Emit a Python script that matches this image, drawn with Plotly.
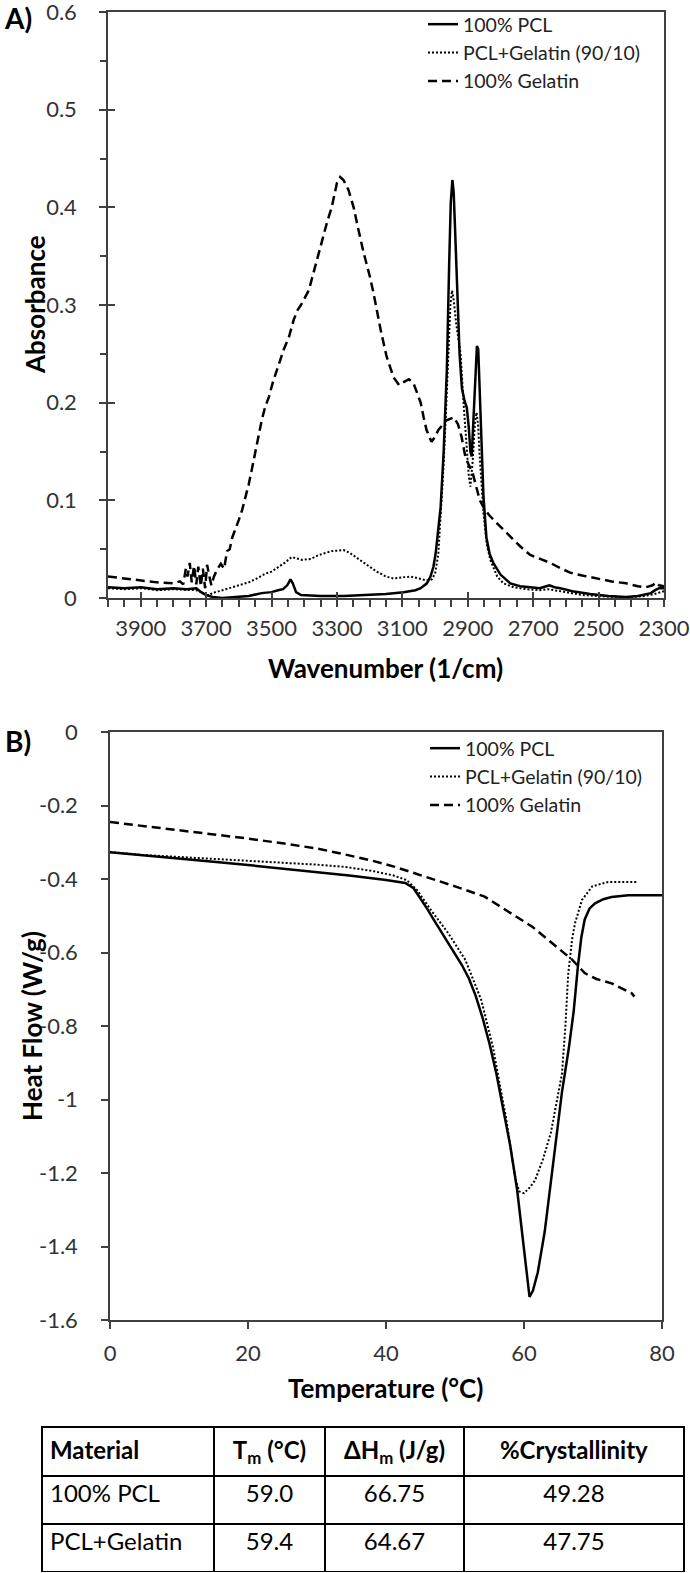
import plotly.graph_objects as go

W, H = 690, 1573

# ---------------- FTIR data (panel A) ----------------
pcl_wn = [4000, 3950, 3900, 3850, 3800, 3760, 3730, 3715, 3700, 3680, 3650, 3600, 3570, 3530, 3500,
          3480, 3465, 3452, 3442, 3435, 3425, 3410, 3350, 3279, 3200, 3150, 3096, 3060, 3044, 3025,
          3014, 3005, 2998, 2990, 2983, 2974, 2964, 2957, 2952, 2947, 2943, 2938, 2932, 2925, 2918,
          2910, 2903, 2897, 2892, 2888, 2883, 2877, 2872, 2868, 2864, 2858, 2852, 2843, 2833, 2822,
          2800, 2770, 2740, 2709, 2680, 2660, 2650, 2635, 2617, 2580, 2526, 2470, 2416, 2380, 2364,
          2340, 2327, 2315, 2300]
pcl_abs = [0.011, 0.010, 0.011, 0.009, 0.010, 0.009, 0.010, 0.006, 0.003, 0.001, 0.000, 0.001, 0.002, 0.005, 0.006,
           0.008, 0.009, 0.013, 0.019, 0.015, 0.006, 0.003, 0.002, 0.002, 0.003, 0.004, 0.006, 0.008, 0.010, 0.015,
           0.022, 0.032, 0.046, 0.068, 0.093, 0.148, 0.233, 0.340, 0.405, 0.428, 0.415, 0.370, 0.310, 0.250, 0.215,
           0.202, 0.195, 0.175, 0.150, 0.145, 0.180, 0.232, 0.258, 0.255, 0.215, 0.148, 0.104, 0.062, 0.045, 0.036,
           0.024, 0.015, 0.012, 0.011, 0.010, 0.012, 0.013, 0.011, 0.010, 0.007, 0.004, 0.002, 0.001, 0.002, 0.003,
           0.005, 0.008, 0.010, 0.010]

blend_wn = [4000, 3950, 3900, 3850, 3800, 3760, 3730, 3710, 3700, 3690, 3682, 3660, 3640, 3621, 3600,
            3570, 3545, 3518, 3500, 3478, 3460, 3438, 3420, 3407, 3380, 3356, 3316, 3290, 3279, 3260,
            3228, 3200, 3178, 3150, 3127, 3100, 3075, 3050, 3026, 3010, 3000, 2990, 2983, 2975, 2968,
            2960, 2953, 2948, 2943, 2935, 2922, 2913, 2903, 2897, 2892, 2885, 2878, 2873, 2868, 2864,
            2852, 2842, 2831, 2810, 2791, 2760, 2720, 2680, 2655, 2640, 2600, 2550, 2500, 2450, 2400,
            2360, 2330, 2310, 2300]
blend_abs = [0.010, 0.009, 0.010, 0.008, 0.009, 0.008, 0.008, 0.005, 0.003, 0.003, 0.005, 0.007, 0.009, 0.011, 0.013,
             0.016, 0.020, 0.025, 0.027, 0.032, 0.036, 0.042, 0.040, 0.039, 0.040, 0.044, 0.048, 0.049, 0.049, 0.046,
             0.039, 0.032, 0.027, 0.022, 0.020, 0.021, 0.022, 0.020, 0.018, 0.019, 0.025, 0.045, 0.080, 0.130, 0.180,
             0.250, 0.300, 0.315, 0.305, 0.280, 0.250, 0.200, 0.150, 0.125, 0.114, 0.140, 0.180, 0.190, 0.175, 0.148,
             0.087, 0.055, 0.039, 0.022, 0.015, 0.011, 0.009, 0.008, 0.009, 0.008, 0.006, 0.003, 0.002, 0.001, 0.001,
             0.002, 0.004, 0.006, 0.007]

gel_wn = [4000, 3950, 3900, 3850, 3800, 3780, 3770, 3762, 3757, 3750, 3744, 3737, 3730, 3724, 3716,
          3710, 3703, 3697, 3690, 3684, 3676, 3665, 3655, 3645, 3636, 3628, 3620, 3610, 3600, 3590,
          3580, 3570, 3560, 3550, 3540, 3530, 3520, 3508, 3495, 3478, 3462, 3447, 3432, 3420, 3410,
          3386, 3356, 3330, 3316, 3300, 3290, 3280, 3265, 3249, 3235, 3218, 3200, 3188, 3166, 3148,
          3127, 3110, 3096, 3080, 3066, 3055, 3044, 3035, 3026, 3011, 3000, 2990, 2983, 2965, 2943,
          2930, 2919, 2907, 2895, 2885, 2875, 2863, 2852, 2835, 2821, 2800, 2770, 2740, 2709, 2680,
          2648, 2620, 2587, 2550, 2507, 2460, 2416, 2380, 2355, 2335, 2324, 2315, 2300]
gel_abs = [0.022, 0.020, 0.018, 0.016, 0.015, 0.017, 0.014, 0.030, 0.022, 0.036, 0.016, 0.033, 0.014, 0.032, 0.012,
           0.030, 0.010, 0.034, 0.022, 0.013, 0.022, 0.030, 0.035, 0.030, 0.048, 0.050, 0.062, 0.070, 0.080, 0.090,
           0.102, 0.116, 0.132, 0.150, 0.165, 0.182, 0.195, 0.206, 0.222, 0.240, 0.255, 0.267, 0.285, 0.295, 0.300,
           0.315, 0.353, 0.385, 0.400, 0.425, 0.431, 0.428, 0.418, 0.400, 0.378, 0.353, 0.330, 0.312, 0.274, 0.247,
           0.226, 0.218, 0.221, 0.224, 0.220, 0.210, 0.200, 0.185, 0.172, 0.160, 0.165, 0.172, 0.175, 0.182, 0.185,
           0.178, 0.165, 0.144, 0.135, 0.128, 0.115, 0.100, 0.093, 0.085, 0.080, 0.073, 0.063, 0.053, 0.044, 0.040,
           0.036, 0.031, 0.026, 0.023, 0.020, 0.017, 0.015, 0.012, 0.011, 0.013, 0.016, 0.013, 0.012]

# ---------------- DSC data (panel B) ----------------
pcl_T = [0, 5, 10, 15, 20, 25, 30, 35, 40, 42.8, 44, 45, 46, 47, 48, 49, 50, 51, 52, 53, 54, 55, 56,
         57, 58, 59, 59.7, 60.3, 60.8, 61.3, 62.0, 63.0, 63.6, 64.5, 65.5, 66.5, 67.2, 67.8, 68.3, 68.8,
         69.5, 70.3, 71.5, 72.7, 75.1, 80]
pcl_hf = [-0.327, -0.335, -0.344, -0.353, -0.362, -0.371, -0.380, -0.391, -0.403, -0.411, -0.425, -0.452,
          -0.482, -0.513, -0.543, -0.572, -0.601, -0.634, -0.670, -0.718, -0.778, -0.848, -0.930, -1.025,
          -1.125, -1.245, -1.355, -1.46, -1.537, -1.52, -1.47, -1.36, -1.27, -1.12, -0.98, -0.86, -0.76,
          -0.64, -0.56, -0.51, -0.48, -0.466, -0.455, -0.449, -0.444, -0.444]

blend_T = [0, 5, 10, 15, 20, 25, 30, 34, 38, 41, 43.0, 44.5, 46.5, 49.0, 51.5, 53.8, 55.5, 56.4, 57.4, 58.2,
           58.8, 59.3, 60, 60.8, 61.6, 62.8, 63.9, 64.8, 65.5, 66.0, 66.4, 67.0, 67.4, 68.4, 69.9, 72.2, 76.5]
blend_hf = [-0.327, -0.335, -0.340, -0.345, -0.350, -0.356, -0.361, -0.367, -0.378, -0.390, -0.403, -0.43,
            -0.484, -0.547, -0.62, -0.729, -0.857, -0.95, -1.05, -1.15, -1.22, -1.25, -1.255, -1.24, -1.22,
            -1.16, -1.09, -1.0, -0.93, -0.80, -0.66, -0.56, -0.52, -0.457, -0.42, -0.408, -0.408]

gel_T = [0, 5, 10, 15, 20, 25, 30, 34, 38, 41.3, 44, 46.5, 50, 54.3, 58.2, 61.2, 64.1, 67, 68.8, 70.5,
         72.7, 75.6, 76]
gel_hf = [-0.245, -0.256, -0.267, -0.279, -0.29, -0.303, -0.317, -0.333, -0.350, -0.367, -0.383, -0.398,
          -0.42, -0.448, -0.493, -0.53, -0.575, -0.62, -0.656, -0.672, -0.684, -0.711, -0.72]

# ---------------- labels ----------------
series_names = ["100% PCL", "PCL+Gelatin (90/10)", "100% Gelatin"]
a_ytickvals = [0, 0.1, 0.2, 0.3, 0.4, 0.5, 0.6]
a_yticktext = ["0", "0.1", "0.2", "0.3", "0.4", "0.5", "0.6"]
a_xtickvals = [3900, 3700, 3500, 3300, 3100, 2900, 2700, 2500, 2300]
a_xticktext = ["3900", "3700", "3500", "3300", "3100", "2900", "2700", "2500", "2300"]
b_ytickvals = [0, -0.2, -0.4, -0.6, -0.8, -1.0, -1.2, -1.4, -1.6]
b_yticktext = ["0", "-0.2", "-0.4", "-0.6", "-0.8", "-1", "-1.2", "-1.4", "-1.6"]
b_xtickvals = [0, 20, 40, 60, 80]
b_xticktext = ["0", "20", "40", "60", "80"]

table_header = ["<b>Material</b>", "<b>T<sub>m</sub> (°C)</b>", "<b>ΔH<sub>m</sub> (J/g)</b>", "<b>%Crystallinity</b>"]
materials = ["100% PCL", "PCL+Gelatin"]
tm_vals = ["59.0", "59.4"]
dhm_vals = ["66.75", "64.67"]
cryst_vals = ["49.28", "47.75"]

FONT = "Lato"
AX = "#404040"
TICKF = dict(family=FONT, size=22, color="#333333")


def px2x(p):
    return p / W


def py2y(p):
    return 1 - p / H


fig = go.Figure()

styles = [dict(color="black", width=2.5, dash="solid"),
          dict(color="black", width=2, dash="2px,2px"),
          dict(color="black", width=2.5, dash="9px,5px")]

for name, xs, ys, st in zip(series_names, [pcl_wn, blend_wn, gel_wn], [pcl_abs, blend_abs, gel_abs], styles):
    fig.add_trace(go.Scatter(x=xs, y=ys, mode="lines", name=name, line=st,
                             xaxis="x", yaxis="y", legend="legend"))

for name, xs, ys, st in zip(series_names, [pcl_T, blend_T, gel_T], [pcl_hf, blend_hf, gel_hf], styles):
    fig.add_trace(go.Scatter(x=xs, y=ys, mode="lines", name=name, line=st,
                             xaxis="x2", yaxis="y2", legend="legend2"))

# empty trace that carries the overlay axes (inner half of the crossing ticks)
fig.add_trace(go.Scatter(x=[], y=[], xaxis="x3", yaxis="y3", showlegend=False))

fig.add_trace(go.Table(
    domain=dict(x=[px2x(42), px2x(684)], y=[0, py2y(1427)]),
    columnwidth=[172, 111, 139, 220],
    header=dict(values=table_header, height=48, align=["left", "center", "center", "center"],
                line=dict(color="black", width=2), fill=dict(color="white"),
                font=dict(family=FONT, size=24, color="black")),
    cells=dict(values=[materials, tm_vals, dhm_vals, cryst_vals], height=48,
               align=["left", "center", "center", "center"],
               line=dict(color="black", width=2), fill=dict(color="white"),
               font=dict(family=FONT, size=24, color="black")),
))

a_dom_x = [px2x(108), px2x(664)]
a_dom_y = [py2y(598), py2y(12)]
b_dom_x = [px2x(110), px2x(662)]
b_dom_y = [py2y(1320), py2y(732)]

common = dict(showgrid=False, zeroline=False, automargin=False, ticklabeloverflow="allow")

fig.update_layout(
    width=W, height=H, margin=dict(l=0, r=0, t=0, b=0, autoexpand=False),
    paper_bgcolor="white", plot_bgcolor="white",
    font=dict(family=FONT, color="black"),
    xaxis=dict(domain=a_dom_x, anchor="y", range=[4000, 2300], tickmode="array",
               tickvals=a_xtickvals, ticktext=a_xticktext, ticks="outside", ticklen=7,
               tickcolor=AX, tickwidth=1.5, showline=True, linecolor=AX, linewidth=1.5,
               mirror=True, tickfont=TICKF, ticklabelstandoff=3,
               minor=dict(tick0=4000, dtick=50, ticks="outside", ticklen=7, tickcolor=AX, tickwidth=1.5),
               **common),
    yaxis=dict(domain=a_dom_y, anchor="x", range=[0, 0.6], tickmode="array",
               tickvals=a_ytickvals, ticktext=a_yticktext, ticks="outside", ticklen=7,
               tickcolor=AX, tickwidth=1.5, showline=True, linecolor=AX, linewidth=1.5,
               mirror=True, tickfont=TICKF, ticklabelstandoff=18,
               minor=dict(tick0=0, dtick=0.05, ticks="outside", ticklen=6, tickcolor=AX, tickwidth=1.5),
               **common),
    xaxis3=dict(overlaying="x", anchor="y3", range=[4000, 2300], tickmode="array",
                tickvals=a_xtickvals, ticks="inside", ticklen=6, tickcolor=AX, tickwidth=1.5,
                showticklabels=False, showline=False, **common),
    yaxis3=dict(overlaying="y", anchor="x3", range=[0, 0.6], tickmode="array",
                tickvals=a_ytickvals, ticks="inside", ticklen=7, tickcolor=AX, tickwidth=1.5,
                showticklabels=False, showline=False, **common),
    xaxis2=dict(domain=b_dom_x, anchor="y2", range=[0, 80], tickmode="array",
                tickvals=b_xtickvals, ticktext=b_xticktext, ticks="outside", ticklen=7,
                tickcolor=AX, tickwidth=1.5, showline=True, linecolor=AX, linewidth=1.5,
                mirror=True, tickfont=TICKF, ticklabelstandoff=6, **common),
    yaxis2=dict(domain=b_dom_y, anchor="x2", range=[-1.6, 0], tickmode="array",
                tickvals=b_ytickvals, ticktext=b_yticktext, ticks="outside", ticklen=7,
                tickcolor=AX, tickwidth=1.5, showline=True, linecolor=AX, linewidth=1.5,
                mirror=True, tickfont=TICKF, ticklabelstandoff=19, **common),
    legend=dict(x=px2x(423), y=py2y(5), xanchor="left", yanchor="top",
                bgcolor="rgba(0,0,0,0)", font=dict(family=FONT, size=19.5, color="#222222"),
                itemwidth=30),
    legend2=dict(x=px2x(425), y=py2y(729), xanchor="left", yanchor="top",
                 bgcolor="rgba(0,0,0,0)", font=dict(family=FONT, size=19.5, color="#222222"),
                 itemwidth=30),
)

ann = [
    ("<b>A)</b>", 18, 18, 28, 0),
    ("<b>B)</b>", 18, 741, 28, 0),
    ("<b>Absorbance</b>", 35, 305, 26, -90),
    ("<b>Wavenumber (1/cm)</b>", 386, 668, 26, 0),
    ("<b>Heat Flow (W/g)</b>", 32, 1026, 26, -90),
    ("<b>Temperature (°C)</b>", 386, 1388, 26, 0),
]
for text, x, y, size, ang in ann:
    fig.add_annotation(text=text, x=px2x(x), y=py2y(y), xref="paper", yref="paper",
                       xanchor="center", yanchor="middle", showarrow=False, textangle=ang,
                       font=dict(family=FONT, size=size, color="black"))

# remove the browser's default 8px page margin so the 690x1573 figure fills the window,
# and hide the hover toolbar
fig.write_html("out.html", config={"displayModeBar": False},
               post_script="document.body.style.margin='0';")
